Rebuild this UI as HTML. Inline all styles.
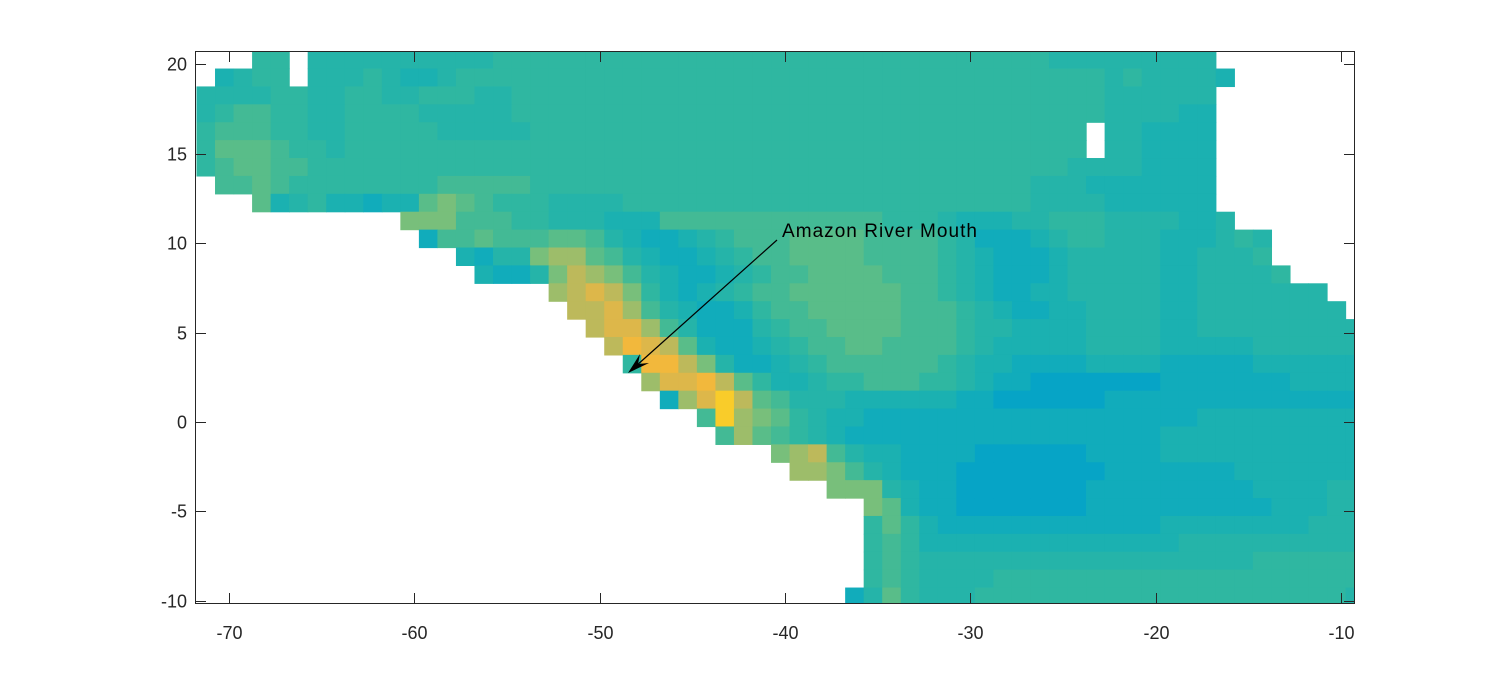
<!DOCTYPE html>
<html><head><meta charset="utf-8">
<style>
html,body{margin:0;padding:0;background:#fff;}
svg{display:block;font-family:"Liberation Sans",Arial,sans-serif;}
</style></head>
<body>
<svg id="chart" width="1497" height="678" viewBox="0 0 1497 678" xmlns="http://www.w3.org/2000/svg">
<rect width="1497" height="678" fill="#fff"/>
<g id="cells"></g>
<g id="axes"></g>
<g>
<line x1="777" y1="240" x2="636" y2="366" stroke="#000" stroke-width="1.2"/>
<polygon points="628,373 640,354 638,364 649,363" fill="#000"/>
<text x="782" y="237" font-size="19" fill="#000" textLength="195">Amazon River Mouth</text>
</g>
</svg>
<script>
// longitude of first cell centre, latitude of first row centre, 1 degree cells
const lon0 = -71.25;
const lat0 = 20.25;
const xTicks = [-70,-60,-50,-40,-30,-20,-10];
const yTicks = [20,15,10,5,0,-5,-10];
const levelColors = ["#06a4c6","#11acbb","#1bb1b1","#25b4a9","#2fb7a1","#43ba95","#59bd89","#78bf7b","#9dbd6a","#bdb95b","#ddb74a","#f2b83c","#f9cc2a"];
const D20 = "....................";
const D30 = "..............................";
const gridRows = [
"...44.3333"+"3333334444"+"4444444444"+"4444444444"+"4444443333"+"33333....."+"...",
".2344.3334"+"3223444444"+"4444444444"+"4444444444"+"4444444443"+"433332...."+"...",
"3333443344"+"3344433444"+"4444444444"+"4444444444"+"4444444443"+"33333....."+"...",
"3455443344"+"4433333444"+"4444444444"+"4444444444"+"4444444443"+"33322....."+"...",
"4555443344"+"4443333344"+"4444444444"+"4444444444"+"44444444.3"+"32222....."+"...",
"4666544344"+"4444444444"+"4444444444"+"4444444444"+"44444444.3"+"32222....."+"...",
"4566554444"+"4444444444"+"4444444444"+"4444444444"+"4444444333"+"32222....."+"...",
".556544444"+"4445555544"+"4444444444"+"4444444444"+"4444433322"+"22222....."+"...",
"...6234221"+"2267654443"+"3334444444"+"4444444444"+"4444433332"+"22222....."+"...",
".........."+".777555443"+"3322255555"+"5555555444"+"3222334443"+"333223...."+"...",
".........."+"..15565556"+"6532112345"+"5566665555"+"4311123443"+"33222343.."+"...",
".........."+"....213378"+"8653211234"+"5566665555"+"4321112333"+"33223334.."+"...",
".........."+".....21137"+"9875321123"+"4556666555"+"4321112333"+"332233334."+"...",
".........."+".........8"+"9a97421234"+"5566666655"+"4321122333"+"3322333333"+"3..",
D20+"99a8532112"+"4556666655"+"5432112233"+"3322333333"+"33.",
D20+".9aa853111"+"3455666655"+"5433222233"+"3322333333"+"333",
D20+"..9ba96211"+"2345566555"+"5432222233"+"3322222333"+"333",
D20+"...4bb9731"+"1234555555"+"4322111122"+"2211111222"+"222",
D20+"....8aab96"+"4223445554"+"4321100000"+"0011111112"+"222",
D20+".....18ac9"+"6533322222"+"2110000001"+"1111111111"+"111",
D20+".......5c8"+"7643221111"+"1111111111"+"1111222222"+"222",
D20+"........58"+"6543211111"+"1111111111"+"1122222222"+"222",
D30+".789532211"+"1100000011"+"1122222222"+"222",
D30+"..88753211"+"1000000001"+"1111112222"+"222",
D30+"....777321"+"1000000011"+"1111111222"+"233",
D30+"......7621"+"1000000011"+"1111111122"+"233",
D30+"......4642"+"1111111111"+"1122222222"+"333",
D30+"......4542"+"2222222222"+"2223333333"+"333",
D30+"......4543"+"3333333333"+"3333333444"+"444",
D30+"......4543"+"3334444444"+"4444444444"+"444",
D30+".....13643"+"3344444444"+"4444444444"+"443"
];

const NS = "http://www.w3.org/2000/svg";
const PL = 195, PR = 1355, PT = 51, PB = 604;
const xMin = -71.83, xMax = -9.24, yMin = -10.17, yMax = 20.73;
function xs(v){ return PL + (v - xMin) / (xMax - xMin) * (PR - PL); }
function ys(v){ return PT + (yMax - v) / (yMax - yMin) * (PB - PT); }
function mk(tag, attrs){ const e = document.createElementNS(NS, tag); for (const k in attrs) e.setAttribute(k, attrs[k]); return e; }

const cells = document.getElementById('cells');
const clip = mk('clipPath', {id:'plotclip'});
clip.appendChild(mk('rect', {x:PL, y:PT, width:PR-PL, height:PB-PT}));
document.getElementById('chart').appendChild(clip);
cells.setAttribute('clip-path', 'url(#plotclip)');
gridRows.forEach((row, j) => {
  const lat = lat0 - j;
  for (let i = 0; i < row.length; i++) {
    const ch = row[i];
    if (ch === '.') continue;
    const lvl = parseInt(ch, 16);
    const lon = lon0 + i;
    const x1 = xs(lon - 0.5), x2 = xs(lon + 0.5);
    const y1 = ys(lat + 0.5), y2 = ys(lat - 0.5);
    const r = mk('rect', {x:x1.toFixed(2), y:y1.toFixed(2), width:(x2-x1+0.6).toFixed(2), height:(y2-y1+0.6).toFixed(2), fill:levelColors[lvl]});
    
    
    cells.appendChild(r);
  }
});

const axes = document.getElementById('axes');
const frame = mk('rect', {x:PL+0.5, y:PT+0.5, width:PR-PL-1, height:PB-PT-1, fill:'none', stroke:'#262626', 'stroke-width':1});


axes.appendChild(frame);
xTicks.forEach(t => {
  const x = Math.round(xs(t)) + 0.5;
  axes.appendChild(mk('line', {x1:x, y1:PB, x2:x, y2:PB-11, stroke:'#262626'}));
  axes.appendChild(mk('line', {x1:x, y1:PT, x2:x, y2:PT+11, stroke:'#262626'}));
  const tx = mk('text', {x:x, y:639, 'text-anchor':'middle', 'font-size':18, fill:'#262626'});
  tx.textContent = String(t);
  
  
  axes.appendChild(tx);
});
yTicks.forEach(t => {
  const y = Math.round(ys(t)) + 0.5;
  axes.appendChild(mk('line', {x1:PL, y1:y, x2:PL+11, y2:y, stroke:'#262626'}));
  axes.appendChild(mk('line', {x1:PR, y1:y, x2:PR-11, y2:y, stroke:'#262626'}));
  const ty = mk('text', {x:187, y:y+6, 'text-anchor':'end', 'font-size':18, fill:'#262626'});
  ty.textContent = String(t);
  
  
  axes.appendChild(ty);
});
</script>
</body></html>
